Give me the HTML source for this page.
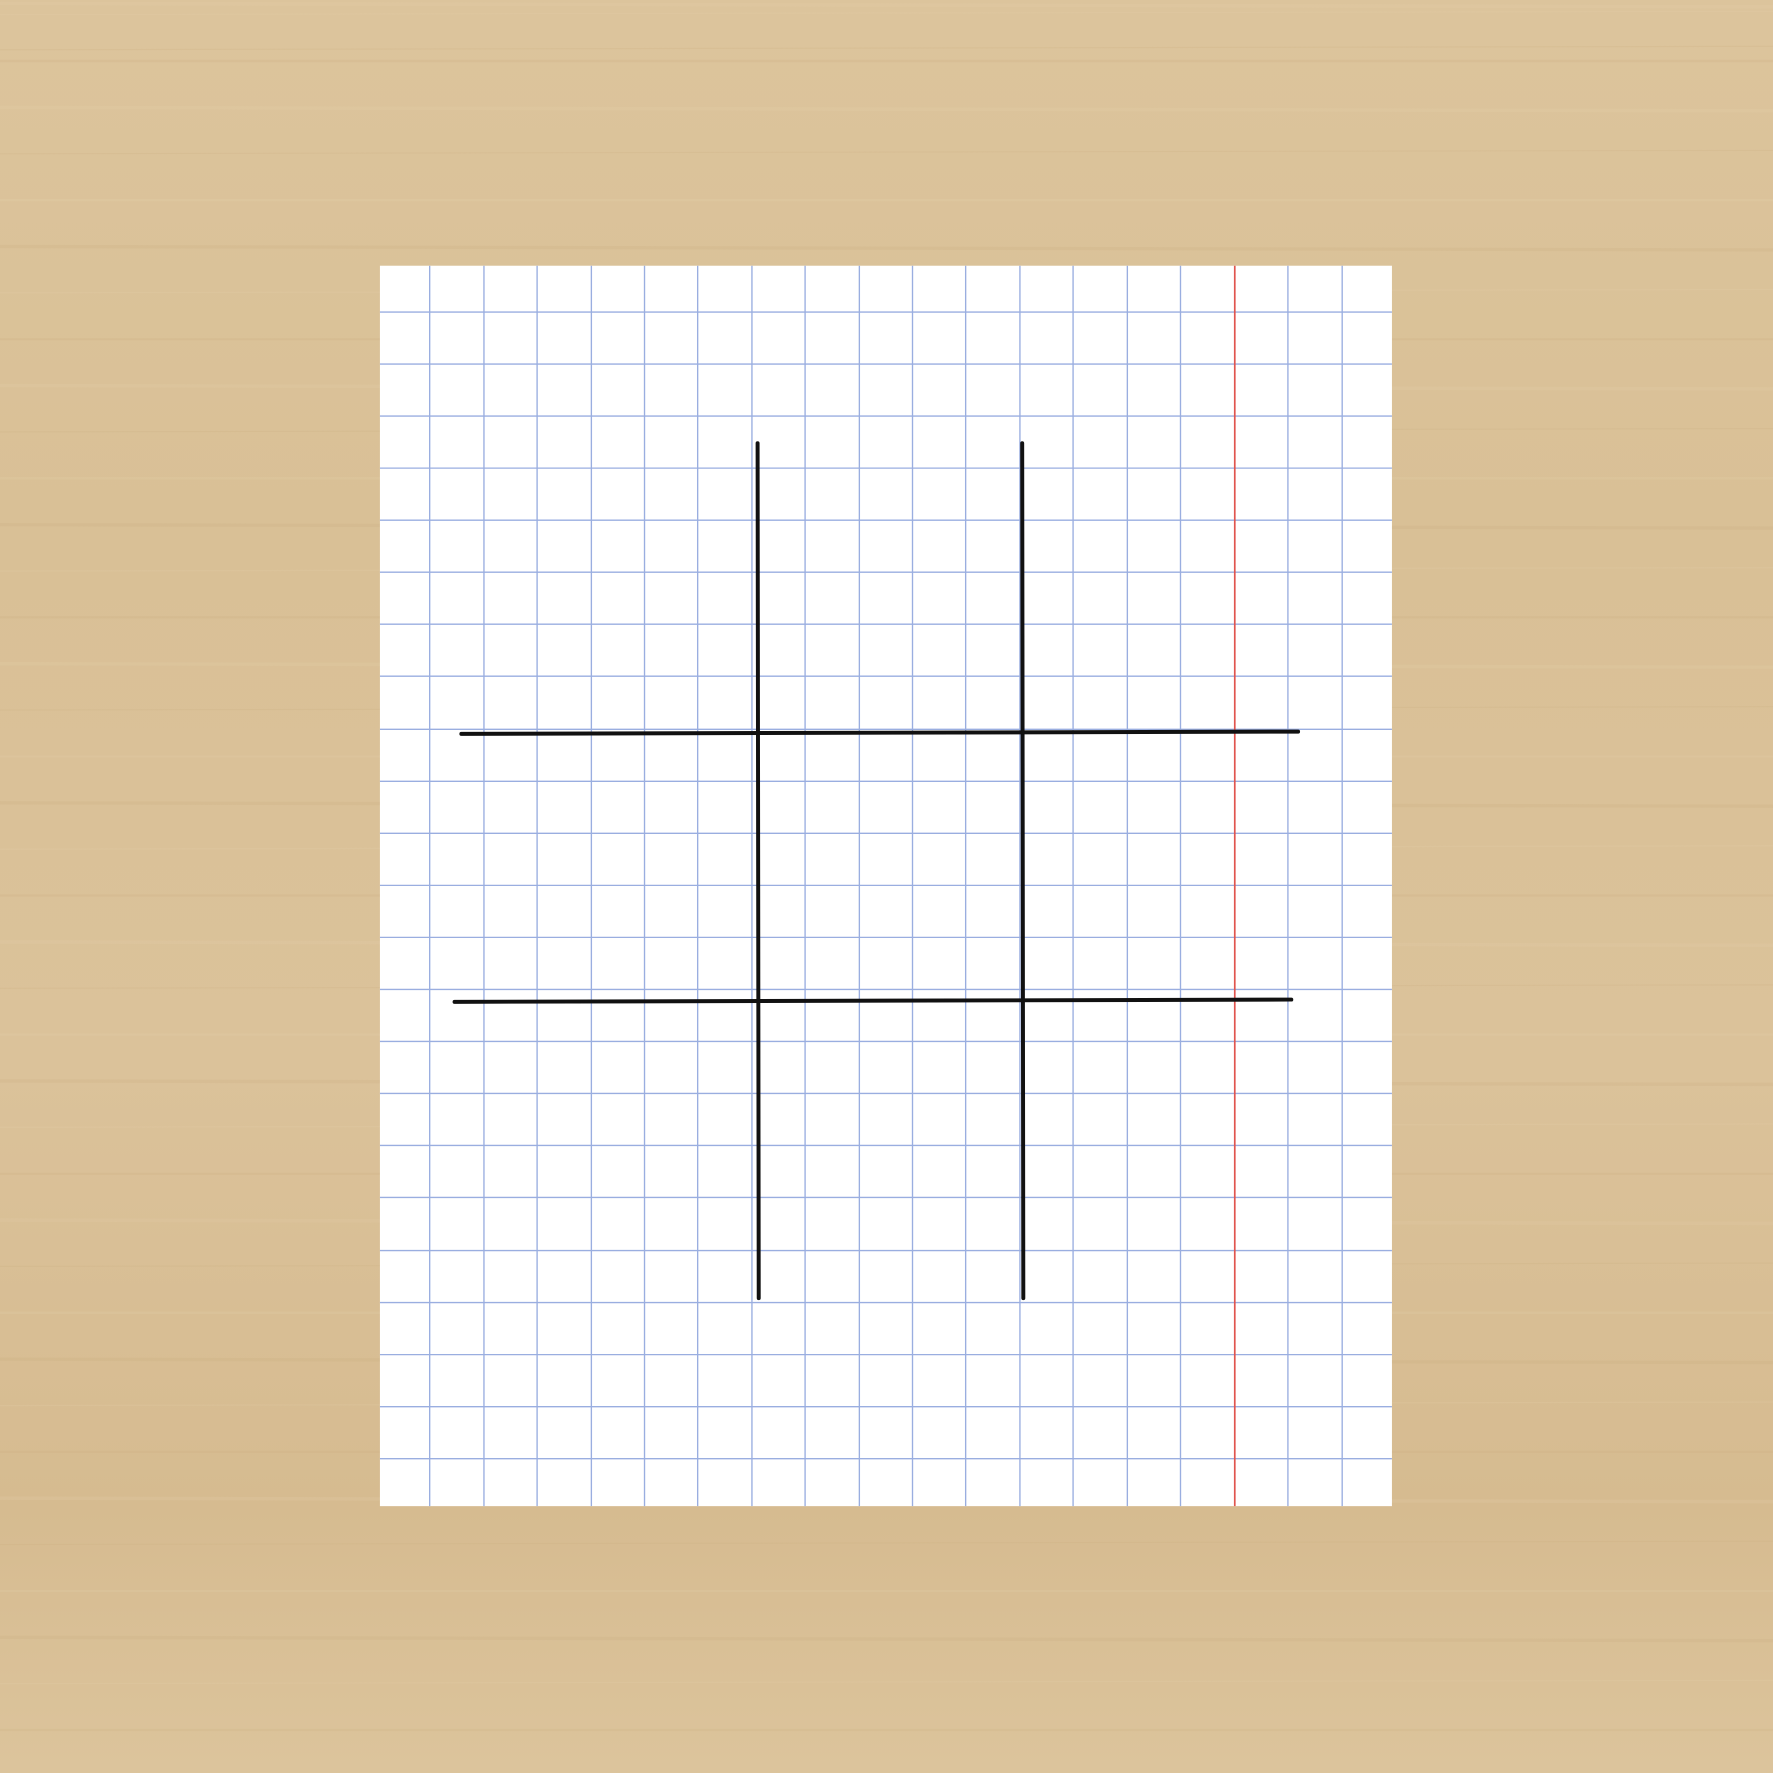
<!DOCTYPE html>
<html><head><meta charset="utf-8"><style>
html,body{margin:0;padding:0;width:1773px;height:1773px;overflow:hidden;background:#dcc399;}
svg{display:block}
</style></head><body>
<svg id="s" width="1773" height="1773" viewBox="0 0 1568 1568" xmlns="http://www.w3.org/2000/svg">
<defs>
<linearGradient id="wood" x1="0" y1="0" x2="0" y2="1">
<stop offset="0" stop-color="#dcc49c"/><stop offset="0.3" stop-color="#d9c096"/>
<stop offset="0.6" stop-color="#dbc29a"/><stop offset="0.85" stop-color="#d6bb90"/><stop offset="1" stop-color="#dcc49c"/>
</linearGradient>
</defs>
<rect x="0" y="0" width="1568" height="1568" fill="url(#wood)"/>
<g id="streaks"></g>
<rect x="336" y="235" width="895" height="1097" fill="#ffffff"/>
<g id="grid"></g>
<g id="board"></g>
</svg>
<script>
const vGrid=[380,428,475,523,570,617,665,712,760,807,854,902,949,997,1044,1139,1187];
const hGrid=[276,322,368,414,460,506,552,598,645,691,737,783,829,875,921,967,1013,1059,1106,1152,1198,1244,1290];
const marginX=[1092];
const boardV=[670,904];
const boardH=[648,885];
const NS="http://www.w3.org/2000/svg";
const grid=document.getElementById('grid'),board=document.getElementById('board'),streaks=document.getElementById('streaks');
function ln(p,x1,y1,x2,y2,c,w){const l=document.createElementNS(NS,'line');l.setAttribute('x1',x1);l.setAttribute('y1',y1);l.setAttribute('x2',x2);l.setAttribute('y2',y2);l.setAttribute('stroke',c);l.setAttribute('stroke-width',w);p.appendChild(l);return l;}
for(let i=0;i<40;i++){const y=(i*41+13)%1568;const l=ln(streaks,0,y,1568,y+((i%3)-1)*3,i%2?'#c9ac7e':'#e6d2ae',1+(i%3));l.setAttribute('opacity','0.2');

}
vGrid.forEach(x=>{const l=ln(grid,x,235,x,1332,'#9aaee0',1.2);

});
hGrid.forEach(y=>{const l=ln(grid,336,y,1231,y,'#9aaee0',1.2);

});
marginX.forEach(x=>{const l=ln(grid,x,235,x,1332,'#e0554f',1.5);

});
boardV.forEach(x=>{const l=ln(board,x,392,x+1,1148,'#111',3.5);l.setAttribute('stroke-linecap','round');

});
boardH.forEach((y,i)=>{const l=ln(board,408-i*6,y+1,1148-i*6,y-1,'#111',3.5);l.setAttribute('stroke-linecap','round');

});
</script>
</body></html>
